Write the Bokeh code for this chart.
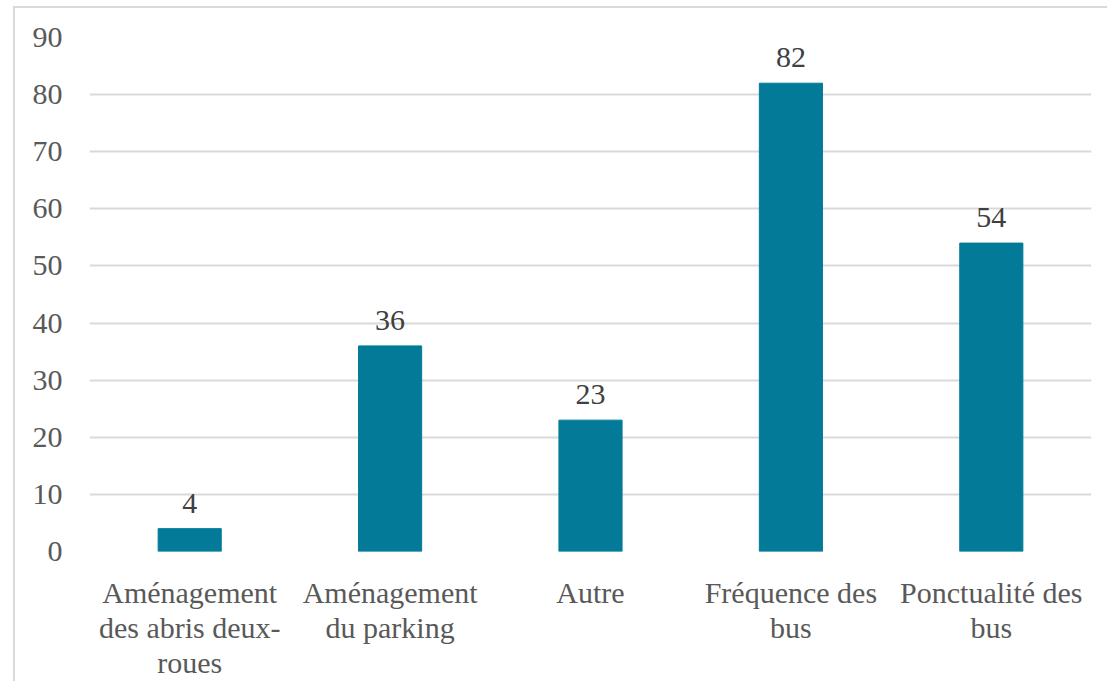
from bokeh.plotting import figure
from bokeh.models import ColumnDataSource, LabelSet, Range1d, SingleIntervalTicker, FixedTicker, LinearAxis
from bokeh.embed import file_html
from bokeh.resources import INLINE

categories = ["Aménagement des abris deux-roues", "Aménagement du parking", "Autre",
              "Fréquence des bus", "Ponctualité des bus"]
tick_lines = [["Aménagement", "des abris deux-", "roues"], ["Aménagement", "du parking"], ["Autre"],
              ["Fréquence des", "bus"], ["Ponctualité des", "bus"]]
values = [4, 36, 23, 82, 54]

FONT = "Liberation Serif"
BAR = "#037B98"
GRID = "#d9d9d9"

xpos = list(range(len(categories)))
source = ColumnDataSource(data=dict(x=xpos, cat=categories, val=values, lab=[str(v) for v in values]))

p = figure(x_range=Range1d(-0.5, len(categories) - 0.5), y_range=Range1d(0, 90),
           width=1107, height=681, output_backend="svg", toolbar_location=None,
           min_border_left=89, min_border_right=16, min_border_top=37, min_border_bottom=124)

p.vbar(x="x", top="val", width=0.315, source=source, fill_color=BAR, line_color=BAR)

labels = LabelSet(x="x", y="val", text="lab", source=source, text_align="center",
                  text_baseline="alphabetic", y_offset=16, text_font_size="30px",
                  text_color="#404040", text_font=FONT)
p.add_layout(labels)

p.outline_line_color = None
p.xgrid.grid_line_color = None
p.ygrid.grid_line_color = GRID
p.ygrid.grid_line_width = 2

p.yaxis.ticker = SingleIntervalTicker(interval=10)

def style_axis(ax):
    ax.axis_line_color = None
    ax.major_tick_line_color = None
    ax.minor_tick_line_color = None
    ax.major_tick_out = 0
    ax.major_tick_in = 0
    ax.minor_tick_out = 0
    ax.minor_tick_in = 0
    ax.major_label_text_font = FONT
    ax.major_label_text_font_size = "30px"
    ax.major_label_text_color = "#595959"

style_axis(p.yaxis[0])
p.yaxis.major_label_standoff = 27

# x tick labels: one axis per text line
standoffs = [24, -1, -1]
xaxes = [p.xaxis[0]]
for _ in range(2):
    ax = LinearAxis()
    p.add_layout(ax, "below")
    xaxes.append(ax)
for li, ax in enumerate(xaxes):
    style_axis(ax)
    ax.ticker = FixedTicker(ticks=xpos, minor_ticks=[])
    ax.major_label_standoff = standoffs[li]
    ax.major_label_orientation = "horizontal"
    ax.major_label_overrides = {i: (lines[li] if li < len(lines) else " ")
                                for i, lines in zip(xpos, tick_lines)}

p.border_fill_color = None
p.background_fill_color = "white"
p.styles = {"background": "linear-gradient(#d9d9d9,#d9d9d9) 13px 6px / 2px 100% no-repeat, "
                          "linear-gradient(#d9d9d9,#d9d9d9) 13px 6px / 100% 2px no-repeat, white"}

open("out.html", "w").write(file_html(p, INLINE))
